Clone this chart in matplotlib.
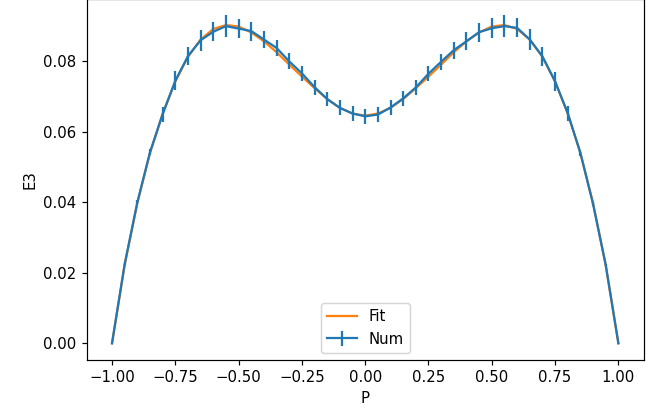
import numpy as np
import matplotlib
matplotlib.use("Agg")
import matplotlib.pyplot as plt

P = [-1.00, -0.95, -0.90, -0.85, -0.80, -0.75, -0.70, -0.65, -0.60, -0.55,
     -0.50, -0.45, -0.40, -0.35, -0.30, -0.25, -0.20, -0.15, -0.10, -0.05,
     0.00, 0.05, 0.10, 0.15, 0.20, 0.25, 0.30, 0.35, 0.40, 0.45,
     0.50, 0.55, 0.60, 0.65, 0.70, 0.75, 0.80, 0.85, 0.90, 0.95, 1.00]

num = [0.0, 0.0225, 0.0400, 0.0542, 0.0650, 0.0745, 0.0815, 0.0860, 0.0884, 0.0900,
       0.0893, 0.0886, 0.0862, 0.0838, 0.0800, 0.0766, 0.0727, 0.0693, 0.0668, 0.0652,
       0.0644, 0.0649, 0.0669, 0.0695, 0.0726, 0.0765, 0.0799, 0.0832, 0.0857, 0.0883,
       0.0894, 0.0900, 0.0895, 0.0862, 0.0814, 0.0743, 0.0653, 0.0540, 0.0395, 0.0222, 0.0]

num_err = [0.0, 0.0003, 0.0006, 0.0008, 0.0021, 0.0027, 0.0026, 0.0030, 0.0027, 0.0031,
           0.0028, 0.0027, 0.0025, 0.0024, 0.0023, 0.0022, 0.0021, 0.0021, 0.0021, 0.0021,
           0.0021, 0.0021, 0.0021, 0.0021, 0.0021, 0.0022, 0.0023, 0.0024, 0.0025, 0.0027,
           0.0028, 0.0031, 0.0027, 0.0030, 0.0026, 0.0027, 0.0021, 0.0008, 0.0006, 0.0003, 0.0]

fit = [0.0, 0.0222, 0.0398, 0.0540, 0.0652, 0.0743, 0.0813, 0.0862, 0.0892, 0.0903,
       0.0899, 0.0882, 0.0857, 0.0826, 0.0791, 0.0757, 0.0724, 0.0693, 0.0668, 0.0652,
       0.0646, 0.0652, 0.0668, 0.0693, 0.0724, 0.0757, 0.0791, 0.0826, 0.0857, 0.0882,
       0.0899, 0.0903, 0.0892, 0.0862, 0.0813, 0.0743, 0.0652, 0.0540, 0.0398, 0.0222, 0.0]

W, H = 662, 419
dpi = 107.5
fig = plt.figure(figsize=(W / dpi, H / dpi), dpi=dpi)
left_px, right_px = 86.7, 643.7
top_px, bottom_px = -1.0, 360.0
ax = fig.add_axes([left_px / W, (H - bottom_px) / H,
                   (right_px - left_px) / W, (bottom_px - top_px) / H])

ax.plot(P, fit, color="C1", label="Fit")
ax.errorbar(P, num, yerr=num_err, color="C0", label="Num")

ax.set_xlim(-1.1, 1.1)
ax.set_ylim(-0.00474, 0.0977)
ax.set_xticks([-1.0, -0.75, -0.5, -0.25, 0.0, 0.25, 0.5, 0.75, 1.0])
ax.set_yticks([0.0, 0.02, 0.04, 0.06, 0.08])
ax.set_xlabel("P")
ax.set_ylabel("E3")
ax.legend(loc="lower center")

fig.savefig("out.png", dpi=dpi)
